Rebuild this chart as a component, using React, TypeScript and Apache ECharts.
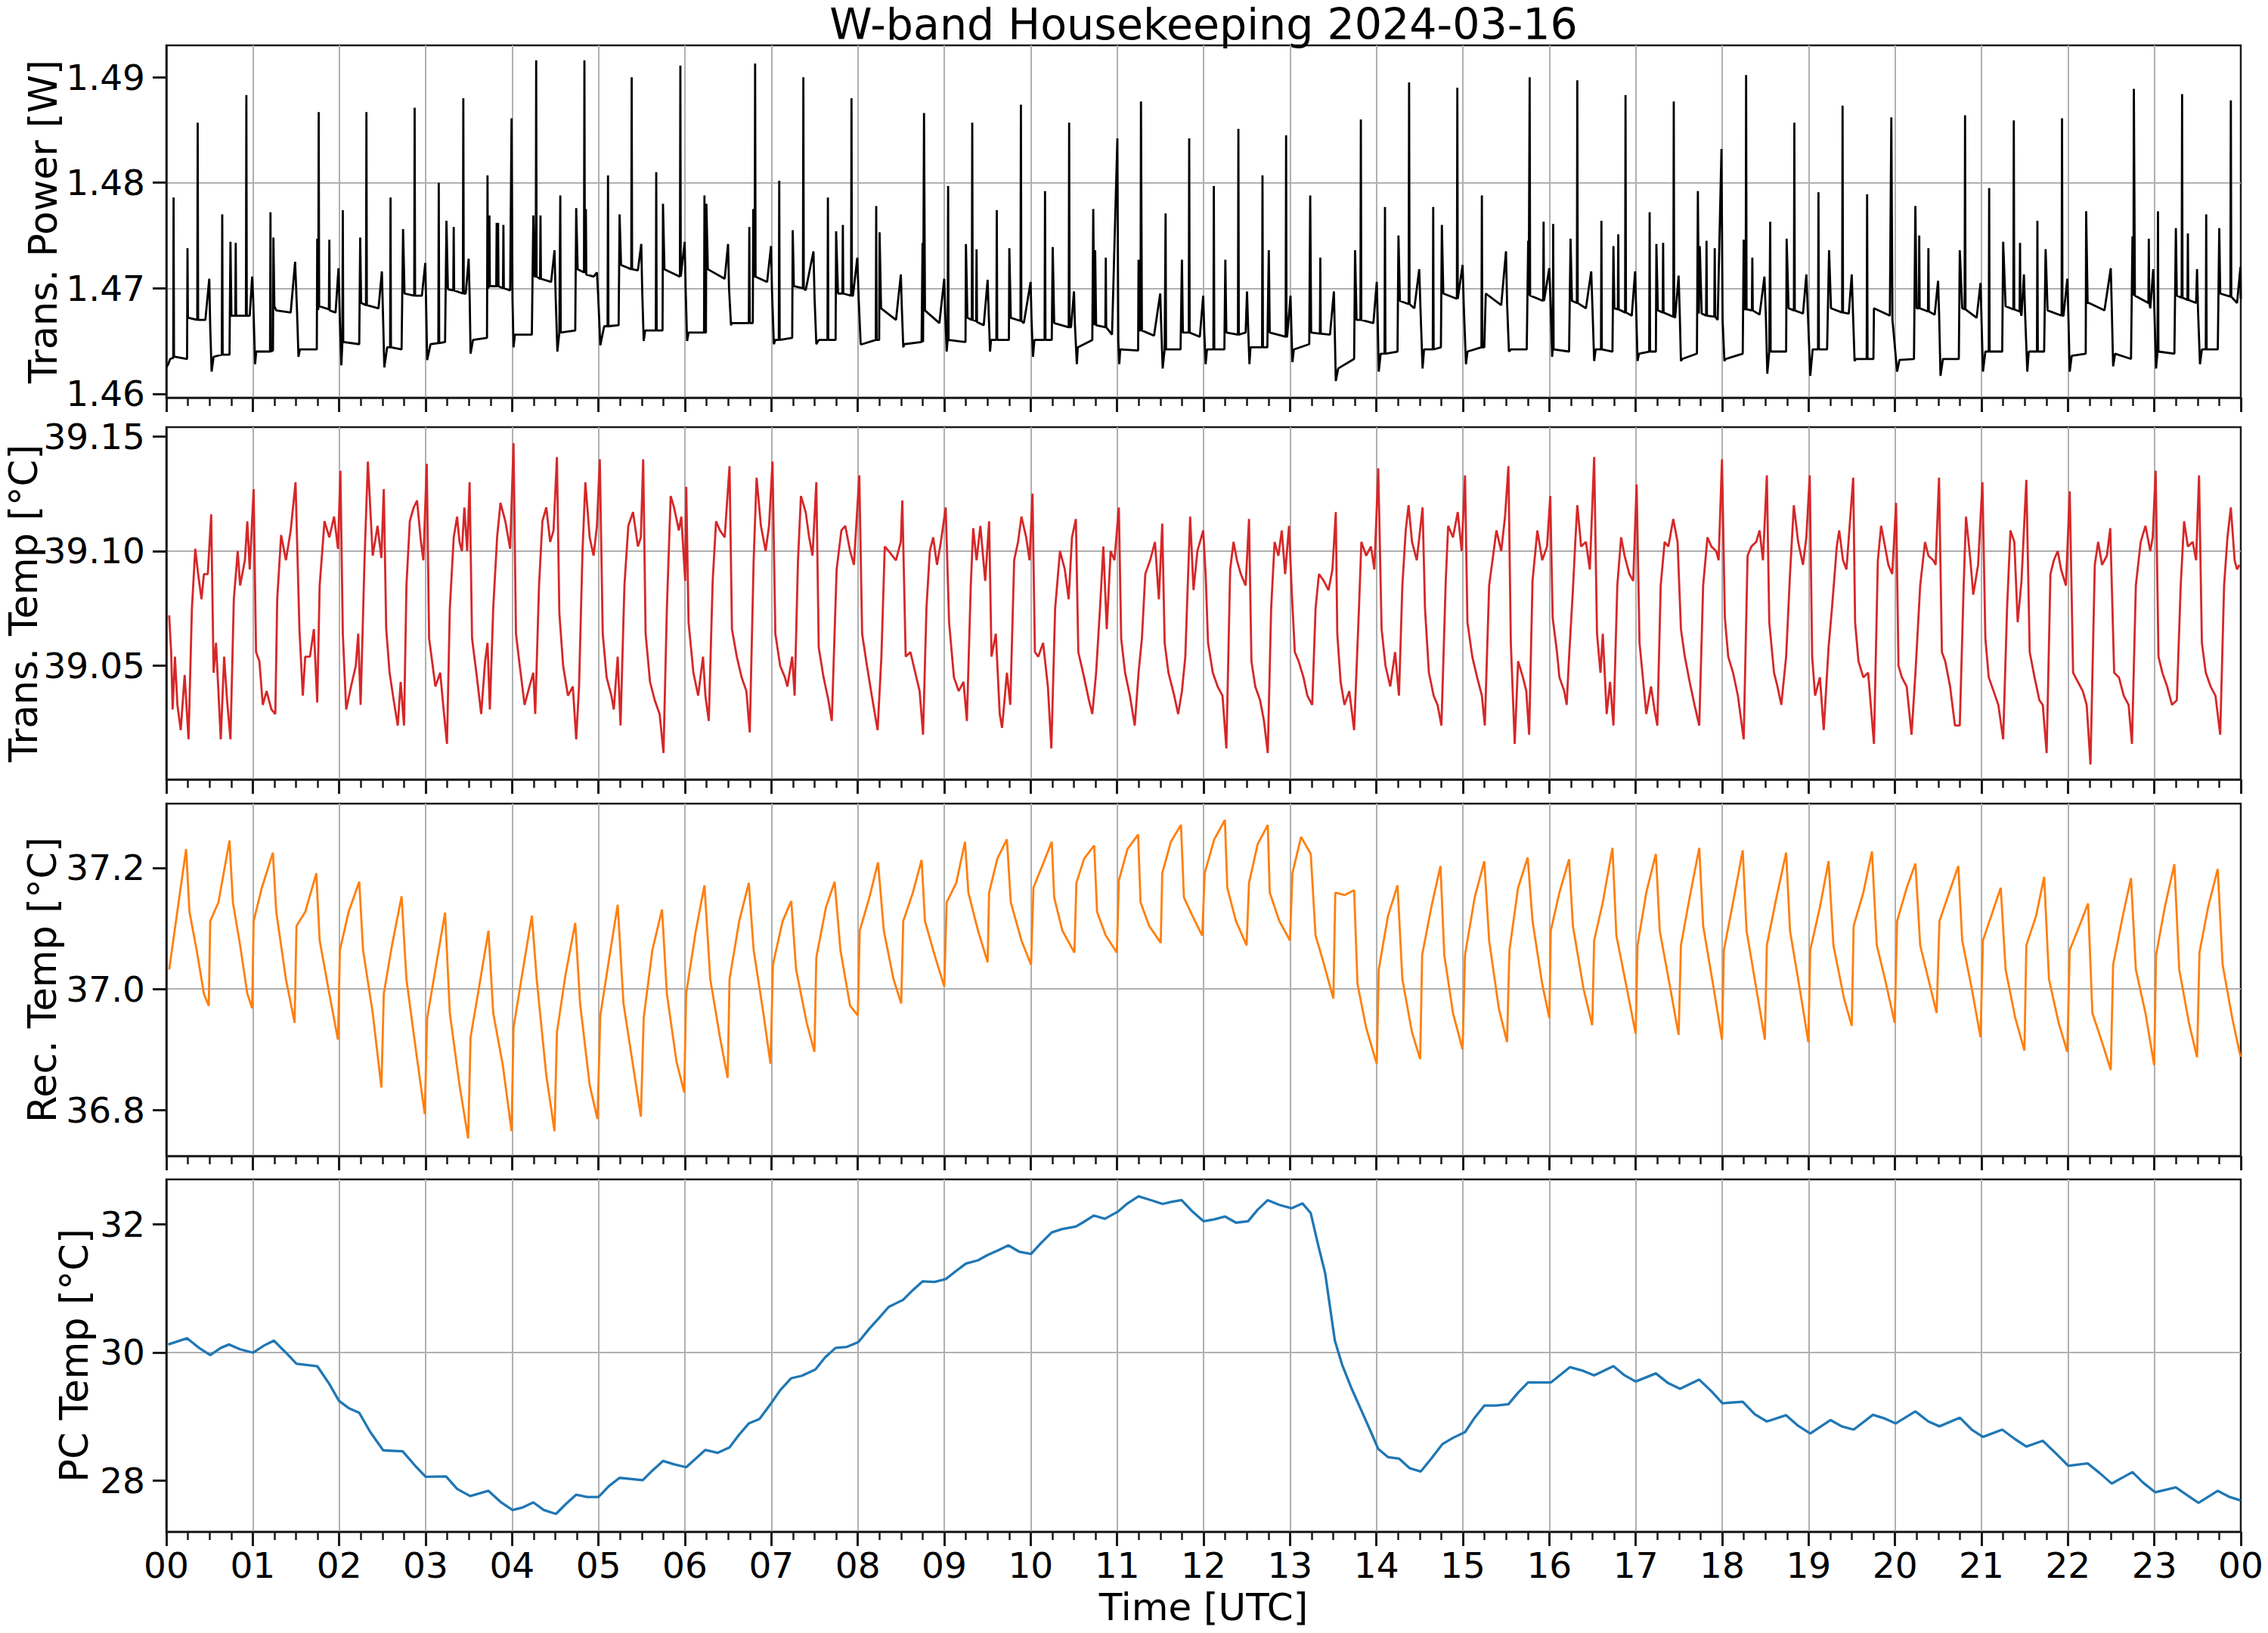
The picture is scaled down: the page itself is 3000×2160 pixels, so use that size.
import React, { useEffect, useRef } from "react";
import * as echarts from "echarts";

const TITLE = "W-band Housekeeping 2024-03-16";
const X_LABEL = "Time [UTC]";
const Y_LABELS = ["Trans. Power [W]", "Trans. Temp [°C]", "Rec. Temp [°C]", "PC Temp [°C]"];
const HOURS = [0, 24];
const Y_TICKS = [
  [1.46, 1.47, 1.48, 1.49],
  [39.05, 39.1, 39.15],
  [36.8, 37.0, 37.2],
  [28, 30, 32],
];
const Y_DECIMALS = [2, 2, 1, 0];
const Y_RANGES = [
  [1.45963, 1.49302],
  [39.0005, 39.154],
  [36.724, 37.306],
  [27.205, 32.698],
];
const COLORS = ["#000000", "#d62728", "#ff7f0e", "#1f77b4"];

const powerPts = [
[0.0,1.4625],[0.022,1.4628],[0.045,1.4633],[0.080,1.4634],[0.084,1.4786],[0.089,1.4636],[0.100,1.4635],[0.240,1.4633],[0.245,1.4738],[0.250,1.4672],[0.257,1.4672],[0.358,1.4670],[0.363,1.4857],[0.368,1.4670],[0.452,1.4670],[0.497,1.4709],[0.508,1.4663],[0.524,1.4621],[0.547,1.4635],
[0.642,1.4637],[0.647,1.4770],[0.652,1.4637],[0.731,1.4637],[0.742,1.4744],[0.753,1.4674],[0.798,1.4674],[0.803,1.4743],[0.808,1.4674],[0.921,1.4674],[0.926,1.4883],[0.931,1.4674],[0.965,1.4674],[0.993,1.4711],[1.005,1.4690],[1.027,1.4628],
[1.040,1.4640],[1.200,1.4640],[1.205,1.4772],[1.210,1.4640],[1.234,1.4641],[1.239,1.4748],[1.250,1.4683],[1.272,1.4679],[1.439,1.4677],[1.490,1.4725],[1.512,1.4679],[1.529,1.4635],
[1.545,1.4642],[1.741,1.4642],[1.746,1.4747],[1.751,1.4680],[1.758,1.4680],[1.763,1.4867],[1.768,1.4683],[1.881,1.4680],[1.886,1.4746],[1.891,1.4679],[1.958,1.4677],[1.992,1.4719],[2.008,1.4670],[2.025,1.4627],
[2.037,1.4649],[2.042,1.4774],[2.047,1.4649],[2.232,1.4647],[2.243,1.4748],[2.254,1.4686],[2.310,1.4684],[2.315,1.4867],[2.320,1.4684],[2.455,1.4681],[2.494,1.4716],[2.505,1.4681],[2.522,1.4625],
[2.555,1.4644],[2.589,1.4644],[2.594,1.4786],[2.599,1.4644],[2.722,1.4642],[2.739,1.4756],[2.756,1.4695],[2.868,1.4693],[2.873,1.4871],[2.878,1.4693],[2.957,1.4693],[2.996,1.4724],[3.007,1.4680],[3.018,1.4632],
[3.057,1.4647],[3.147,1.4648],[3.152,1.4800],[3.157,1.4648],[3.225,1.4649],[3.241,1.4764],[3.258,1.4699],[3.320,1.4698],[3.325,1.4758],[3.330,1.4698],[3.431,1.4695],[3.436,1.4880],[3.441,1.4695],[3.464,1.4695],[3.498,1.4728],[3.510,1.4690],[3.520,1.4638],
[3.548,1.4651],[3.710,1.4653],[3.716,1.4807],[3.721,1.4700],[3.733,1.4702],[3.738,1.4769],[3.743,1.4702],[3.817,1.4702],[3.822,1.4762],[3.827,1.4702],[3.835,1.4702],[3.838,1.4762],[3.843,1.4702],[3.895,1.4700],[3.900,1.4760],[3.905,1.4700],[3.978,1.4698],[3.994,1.4861],[4.005,1.4690],[4.017,1.4644],
[4.033,1.4656],[4.229,1.4656],[4.246,1.4769],[4.262,1.4711],[4.274,1.4711],[4.279,1.4916],[4.284,1.4711],[4.324,1.4709],[4.329,1.4769],[4.334,1.4709],[4.452,1.4706],[4.491,1.4736],[4.505,1.4690],[4.524,1.4640],
[4.547,1.4658],[4.558,1.4788],[4.563,1.4658],[4.731,1.4660],[4.742,1.4776],[4.759,1.4718],[4.832,1.4715],[4.837,1.4916],[4.842,1.4715],[4.849,1.4715],[4.854,1.4775],[4.859,1.4713],[4.943,1.4711],[4.982,1.4715],[4.995,1.4695],[5.021,1.4646],
[5.066,1.4664],[5.105,1.4664],[5.110,1.4807],[5.115,1.4664],[5.233,1.4665],[5.244,1.4770],[5.261,1.4722],[5.379,1.4718],[5.384,1.4900],[5.389,1.4718],[5.456,1.4717],[5.495,1.4742],[5.505,1.4700],[5.523,1.4650],
[5.540,1.4660],[5.663,1.4660],[5.668,1.4810],[5.673,1.4660],[5.741,1.4660],[5.746,1.4780],[5.763,1.4718],[5.942,1.4711],[5.947,1.4911],[5.952,1.4711],[5.958,1.4711],[5.997,1.4744],[6.008,1.4700],[6.025,1.4650],
[6.042,1.4658],[6.221,1.4658],[6.226,1.4788],[6.231,1.4658],[6.243,1.4658],[6.248,1.4780],[6.265,1.4718],[6.460,1.4709],[6.499,1.4742],[6.510,1.4700],[6.533,1.4665],
[6.544,1.4667],[6.739,1.4667],[6.745,1.4758],[6.750,1.4667],[6.785,1.4667],[6.790,1.4775],[6.800,1.4711],[6.807,1.4711],[6.812,1.4913],[6.817,1.4711],[6.951,1.4706],[6.996,1.4740],[7.008,1.4695],[7.029,1.4647],
[7.046,1.4651],[7.086,1.4651],[7.091,1.4802],[7.096,1.4651],[7.241,1.4653],[7.247,1.4755],[7.260,1.4702],[7.365,1.4700],[7.370,1.4900],[7.375,1.4700],[7.397,1.4698],[7.487,1.4735],[7.500,1.4690],[7.520,1.4647],
[7.548,1.4651],[7.649,1.4651],[7.654,1.4786],[7.659,1.4651],[7.743,1.4651],[7.749,1.4754],[7.771,1.4695],[7.822,1.4695],[7.827,1.4760],[7.832,1.4695],[7.922,1.4693],[7.927,1.4880],[7.932,1.4693],[7.944,1.4693],[7.994,1.4729],[8.010,1.4690],[8.033,1.4647],
[8.050,1.4647],[8.208,1.4651],[8.213,1.4778],[8.218,1.4651],[8.247,1.4651],[8.252,1.4753],[8.269,1.4681],[8.442,1.4670],[8.498,1.4713],[8.510,1.4680],[8.526,1.4644],
[8.537,1.4647],[8.738,1.4649],[8.749,1.4743],[8.755,1.4649],[8.761,1.4649],[8.766,1.4866],[8.777,1.4679],[8.944,1.4667],[9.000,1.4709],[9.012,1.4675],[9.028,1.4640],
[9.039,1.4651],[9.045,1.4797],[9.050,1.4651],[9.246,1.4649],[9.251,1.4742],[9.268,1.4672],[9.319,1.4670],[9.324,1.4857],[9.329,1.4670],[9.369,1.4669],[9.374,1.4737],[9.379,1.4668],[9.457,1.4665],[9.502,1.4708],[9.515,1.4675],[9.530,1.4640],
[9.541,1.4651],[9.603,1.4651],[9.608,1.4774],[9.613,1.4651],[9.748,1.4651],[9.753,1.4738],[9.770,1.4672],[9.882,1.4669],[9.887,1.4874],[9.892,1.4669],[9.921,1.4667],[9.999,1.4706],[10.010,1.4670],[10.027,1.4635],
[10.043,1.4651],[10.161,1.4651],[10.166,1.4792],[10.171,1.4651],[10.244,1.4651],[10.255,1.4739],[10.272,1.4667],[10.440,1.4663],[10.445,1.4857],[10.450,1.4663],[10.467,1.4663],[10.501,1.4697],[10.512,1.4665],[10.534,1.4628],
[10.545,1.4644],[10.713,1.4651],[10.724,1.4775],[10.735,1.4665],[10.741,1.4665],[10.746,1.4736],[10.757,1.4665],[10.864,1.4663],[10.869,1.4729],[10.874,1.4663],[10.941,1.4656],[11.003,1.4842],[11.014,1.4650],[11.025,1.4628],
[11.036,1.4642],[11.243,1.4641],[11.248,1.4727],[11.255,1.4660],[11.271,1.4660],[11.276,1.4877],[11.287,1.4660],[11.427,1.4655],[11.499,1.4695],[11.510,1.4665],[11.527,1.4624],
[11.550,1.4642],[11.556,1.4642],[11.561,1.4771],[11.566,1.4642],[11.734,1.4642],[11.750,1.4727],[11.761,1.4658],[11.829,1.4658],[11.834,1.4842],[11.839,1.4658],[11.957,1.4654],[11.996,1.4693],[12.008,1.4660],[12.024,1.4628],
[12.040,1.4642],[12.114,1.4642],[12.119,1.4797],[12.124,1.4642],[12.241,1.4642],[12.252,1.4727],[12.264,1.4658],[12.398,1.4656],[12.403,1.4851],[12.408,1.4656],[12.487,1.4658],[12.503,1.4697],[12.515,1.4665],[12.531,1.4628],
[12.543,1.4644],[12.677,1.4644],[12.682,1.4807],[12.687,1.4644],[12.738,1.4644],[12.755,1.4736],[12.766,1.4658],[12.950,1.4654],[12.955,1.4845],[12.960,1.4654],[12.967,1.4654],[13.006,1.4693],[13.017,1.4660],[13.028,1.4630],
[13.045,1.4642],[13.223,1.4647],[13.234,1.4788],[13.245,1.4658],[13.346,1.4657],[13.351,1.4729],[13.356,1.4657],[13.463,1.4656],[13.508,1.4697],[13.518,1.4660],[13.530,1.4612],
[13.558,1.4624],[13.742,1.4633],[13.753,1.4736],[13.770,1.4670],[13.815,1.4670],[13.820,1.4860],[13.825,1.4670],[13.965,1.4667],[14.004,1.4706],[14.015,1.4670],[14.027,1.4621],
[14.049,1.4638],[14.094,1.4638],[14.099,1.4777],[14.104,1.4638],[14.244,1.4640],[14.255,1.4750],[14.272,1.4688],[14.373,1.4685],[14.378,1.4895],[14.383,1.4685],[14.439,1.4681],[14.495,1.4718],[14.510,1.4680],[14.534,1.4624],
[14.551,1.4642],[14.652,1.4642],[14.657,1.4777],[14.662,1.4642],[14.746,1.4644],[14.757,1.4760],[14.774,1.4695],[14.931,1.4690],[14.936,1.4890],[14.941,1.4690],[14.997,1.4722],[15.010,1.4685],[15.036,1.4628],
[15.053,1.4640],[15.215,1.4644],[15.220,1.4788],[15.225,1.4644],[15.248,1.4644],[15.265,1.4695],[15.444,1.4684],[15.499,1.4735],[15.512,1.4685],[15.533,1.4640],
[15.555,1.4642],[15.739,1.4642],[15.756,1.4745],[15.762,1.4693],[15.768,1.4693],[15.773,1.4900],[15.778,1.4693],[15.929,1.4688],[15.934,1.4763],[15.939,1.4688],[16.000,1.4719],[16.017,1.4680],[16.033,1.4635],
[16.040,1.4642],[16.045,1.4761],[16.050,1.4642],[16.229,1.4640],[16.246,1.4747],[16.262,1.4688],[16.319,1.4686],[16.324,1.4897],[16.329,1.4686],[16.424,1.4681],[16.485,1.4716],[16.500,1.4680],[16.519,1.4631],
[16.536,1.4642],[16.598,1.4642],[16.603,1.4764],[16.608,1.4642],[16.731,1.4640],[16.742,1.4740],[16.753,1.4681],[16.793,1.4680],[16.798,1.4751],[16.803,1.4680],[16.877,1.4677],[16.882,1.4883],[16.887,1.4677],[16.954,1.4674],[16.993,1.4716],[17.005,1.4680],[17.021,1.4631],
[17.038,1.4638],[17.156,1.4640],[17.161,1.4772],[17.166,1.4640],[17.233,1.4640],[17.239,1.4742],[17.256,1.4679],[17.312,1.4677],[17.317,1.4743],[17.322,1.4677],[17.435,1.4673],[17.440,1.4877],[17.445,1.4673],[17.456,1.4672],[17.496,1.4712],[17.508,1.4680],[17.523,1.4631],
[17.540,1.4633],[17.708,1.4638],[17.719,1.4792],[17.730,1.4676],[17.741,1.4740],[17.763,1.4676],[17.814,1.4674],[17.819,1.4745],[17.824,1.4674],[17.909,1.4673],[17.914,1.4738],[17.919,1.4673],[17.948,1.4670],[17.992,1.4832],[18.005,1.4670],[18.026,1.4631],
[18.042,1.4633],[18.238,1.4638],[18.249,1.4746],[18.260,1.4680],[18.272,1.4680],[18.277,1.4902],[18.282,1.4680],[18.344,1.4679],[18.349,1.4729],[18.354,1.4679],[18.433,1.4675],[18.489,1.4711],[18.505,1.4675],[18.522,1.4619],
[18.545,1.4640],[18.551,1.4640],[18.556,1.4763],[18.561,1.4640],[18.740,1.4640],[18.746,1.4747],[18.768,1.4681],[18.830,1.4679],[18.835,1.4857],[18.840,1.4679],[18.935,1.4676],[18.974,1.4713],[18.990,1.4680],[19.019,1.4617],
[19.047,1.4642],[19.109,1.4642],[19.114,1.4791],[19.119,1.4642],[19.214,1.4642],[19.237,1.4736],[19.259,1.4681],[19.388,1.4677],[19.393,1.4873],[19.398,1.4677],[19.465,1.4676],[19.499,1.4713],[19.512,1.4680],[19.532,1.4631],
[19.549,1.4633],[19.672,1.4633],[19.677,1.4789],[19.682,1.4633],[19.750,1.4633],[19.756,1.4681],[19.940,1.4674],[19.957,1.4862],[19.970,1.4670],[20.024,1.4621],
[20.051,1.4632],[20.219,1.4633],[20.235,1.4778],[20.250,1.4681],[20.275,1.4681],[20.280,1.4750],[20.285,1.4681],[20.381,1.4678],[20.386,1.4738],[20.391,1.4678],[20.459,1.4675],[20.498,1.4707],[20.510,1.4675],[20.526,1.4617],
[20.554,1.4633],[20.738,1.4633],[20.749,1.4736],[20.777,1.4681],[20.805,1.4680],[20.810,1.4864],[20.815,1.4680],[20.944,1.4672],[20.989,1.4705],[21.000,1.4672],[21.017,1.4621],
[21.045,1.4640],[21.084,1.4640],[21.089,1.4795],[21.094,1.4640],[21.240,1.4640],[21.251,1.4744],[21.279,1.4683],[21.369,1.4680],[21.374,1.4859],[21.379,1.4680],[21.441,1.4678],[21.446,1.4743],[21.451,1.4678],[21.463,1.4674],[21.491,1.4713],[21.505,1.4675],[21.530,1.4621],
[21.547,1.4640],[21.642,1.4640],[21.647,1.4764],[21.652,1.4640],[21.725,1.4640],[21.742,1.4737],[21.765,1.4679],[21.927,1.4674],[21.932,1.4861],[21.937,1.4674],[21.949,1.4674],[21.993,1.4709],[22.005,1.4675],[22.021,1.4621],
[22.044,1.4636],[22.206,1.4638],[22.211,1.4773],[22.228,1.4686],[22.244,1.4686],[22.423,1.4679],[22.496,1.4719],[22.508,1.4680],[22.523,1.4626],
[22.546,1.4638],[22.730,1.4633],[22.747,1.4749],[22.758,1.4693],[22.763,1.4889],[22.775,1.4693],[22.931,1.4686],[22.936,1.4747],[22.941,1.4686],[22.953,1.4681],[22.987,1.4718],[23.000,1.4680],[23.020,1.4624],
[23.037,1.4640],[23.042,1.4773],[23.047,1.4640],[23.232,1.4638],[23.249,1.4757],[23.260,1.4693],[23.316,1.4691],[23.321,1.4884],[23.326,1.4691],[23.383,1.4689],[23.388,1.4752],[23.393,1.4689],[23.483,1.4686],[23.494,1.4718],[23.505,1.4680],[23.528,1.4628],
[23.550,1.4642],[23.595,1.4642],[23.600,1.4770],[23.605,1.4642],[23.734,1.4642],[23.751,1.4757],[23.762,1.4695],[23.880,1.4692],[23.885,1.4878],[23.890,1.4692],[23.957,1.4686],[23.996,1.4720],[24.0,1.4690],
];

const transTempPts = [
[0.033,39.072],[0.056,39.056],[0.073,39.031],[0.100,39.054],[0.128,39.033],[0.167,39.022],[0.212,39.046],[0.257,39.018],[0.296,39.075],[0.335,39.101],[0.368,39.090],[0.407,39.079],[0.435,39.090],[0.480,39.090],[0.519,39.116],[0.547,39.047],[0.575,39.060],[0.630,39.018],[0.669,39.054],[0.703,39.035],[0.742,39.018],[0.781,39.079],[0.826,39.100],[0.854,39.085],[0.909,39.096],[0.937,39.113],[0.965,39.092],[1.010,39.127],[1.038,39.056],[1.077,39.052],[1.116,39.033],[1.160,39.039],[1.216,39.031],[1.261,39.029],[1.283,39.079],[1.328,39.107],[1.384,39.096],[1.439,39.109],[1.495,39.130],[1.540,39.066],[1.579,39.037],[1.607,39.054],[1.662,39.054],[1.707,39.066],[1.746,39.034],[1.774,39.085],[1.830,39.113],[1.886,39.106],[1.941,39.115],[1.986,39.101],[2.014,39.135],[2.042,39.064],[2.081,39.031],[2.137,39.041],[2.192,39.050],[2.220,39.064],[2.248,39.033],[2.293,39.096],[2.332,39.139],[2.388,39.098],[2.444,39.111],[2.488,39.097],[2.516,39.127],[2.544,39.066],[2.583,39.047],[2.639,39.033],[2.678,39.024],[2.711,39.043],[2.750,39.024],[2.778,39.085],[2.817,39.113],[2.862,39.119],[2.901,39.122],[2.946,39.104],[2.974,39.096],[3.013,39.138],[3.040,39.062],[3.113,39.041],[3.169,39.047],[3.208,39.031],[3.247,39.016],[3.280,39.075],[3.325,39.106],[3.364,39.115],[3.392,39.104],[3.420,39.100],[3.448,39.119],[3.481,39.100],[3.509,39.130],[3.537,39.062],[3.587,39.047],[3.643,39.029],[3.688,39.052],[3.716,39.060],[3.743,39.031],[3.782,39.075],[3.827,39.106],[3.866,39.121],[3.922,39.113],[3.978,39.101],[4.017,39.147],[4.045,39.064],[4.089,39.050],[4.145,39.033],[4.201,39.041],[4.246,39.047],[4.268,39.029],[4.312,39.085],[4.351,39.113],[4.396,39.119],[4.441,39.104],[4.480,39.109],[4.519,39.141],[4.547,39.073],[4.591,39.050],[4.647,39.037],[4.703,39.041],[4.742,39.018],[4.775,39.041],[4.815,39.100],[4.848,39.130],[4.898,39.106],[4.943,39.098],[4.982,39.111],[5.015,39.140],[5.049,39.064],[5.094,39.045],[5.149,39.037],[5.177,39.031],[5.222,39.054],[5.255,39.024],[5.300,39.085],[5.345,39.111],[5.400,39.117],[5.456,39.102],[5.490,39.106],[5.517,39.140],[5.545,39.064],[5.596,39.043],[5.651,39.035],[5.707,39.029],[5.752,39.012],[5.791,39.075],[5.835,39.124],[5.874,39.119],[5.930,39.109],[5.958,39.115],[6.003,39.087],[6.015,39.128],[6.042,39.069],[6.098,39.047],[6.153,39.037],[6.209,39.054],[6.237,39.037],[6.276,39.026],[6.321,39.087],[6.360,39.113],[6.405,39.109],[6.460,39.106],[6.516,39.137],[6.544,39.066],[6.600,39.054],[6.656,39.045],[6.711,39.039],[6.750,39.021],[6.795,39.096],[6.829,39.132],[6.879,39.111],[6.934,39.100],[6.973,39.111],[7.013,39.139],[7.046,39.064],[7.102,39.050],[7.157,39.045],[7.185,39.041],[7.241,39.054],[7.269,39.037],[7.308,39.096],[7.342,39.124],[7.397,39.117],[7.437,39.106],[7.476,39.098],[7.520,39.130],[7.548,39.058],[7.604,39.045],[7.660,39.035],[7.699,39.026],[7.755,39.092],[7.810,39.109],[7.855,39.111],[7.911,39.100],[7.955,39.094],[8.017,39.133],[8.050,39.064],[8.106,39.050],[8.162,39.037],[8.229,39.022],[8.273,39.054],[8.312,39.102],[8.357,39.100],[8.441,39.096],[8.497,39.104],
[8.515,39.122],[8.554,39.054],[8.609,39.056],[8.665,39.047],[8.715,39.039],[8.755,39.020],[8.794,39.075],[8.833,39.100],[8.872,39.106],[8.916,39.094],[8.961,39.104],[9.017,39.119],[9.056,39.069],[9.112,39.045],[9.167,39.039],[9.223,39.043],[9.262,39.026],[9.307,39.085],[9.335,39.110],[9.374,39.096],[9.418,39.111],[9.474,39.087],[9.519,39.113],[9.547,39.054],[9.597,39.064],[9.642,39.029],[9.669,39.023],[9.725,39.047],[9.764,39.033],[9.809,39.096],[9.854,39.104],[9.893,39.115],[9.948,39.106],[9.987,39.096],[10.021,39.125],[10.049,39.056],[10.088,39.054],[10.144,39.060],[10.199,39.041],[10.239,39.014],[10.283,39.075],[10.339,39.100],[10.395,39.092],[10.439,39.079],[10.478,39.106],[10.523,39.114],[10.551,39.056],[10.618,39.045],[10.674,39.035],[10.713,39.029],[10.757,39.047],[10.802,39.075],[10.841,39.102],[10.880,39.066],[10.925,39.100],[10.969,39.096],[11.020,39.119],[11.047,39.062],[11.092,39.047],[11.148,39.037],[11.204,39.024],[11.248,39.047],[11.287,39.062],[11.326,39.090],[11.382,39.096],[11.438,39.104],[11.483,39.079],[11.522,39.112],[11.550,39.060],[11.594,39.047],[11.661,39.037],[11.706,39.029],[11.750,39.039],[11.789,39.054],[11.817,39.085],[11.845,39.115],[11.884,39.083],[11.929,39.100],[11.996,39.109],[12.024,39.090],[12.052,39.060],[12.107,39.047],[12.163,39.041],[12.219,39.037],[12.264,39.014],[12.308,39.092],[12.347,39.104],[12.386,39.096],[12.431,39.090],[12.487,39.085],[12.526,39.114],[12.554,39.052],[12.598,39.041],[12.654,39.035],[12.699,39.026],[12.743,39.012],[12.782,39.075],[12.822,39.104],[12.866,39.098],[12.905,39.109],[12.944,39.090],[12.989,39.111],[13.022,39.081],[13.056,39.056],[13.100,39.052],[13.156,39.045],[13.201,39.037],[13.257,39.033],[13.296,39.075],[13.335,39.090],[13.391,39.087],[13.446,39.083],[13.491,39.092],[13.530,39.117],[13.547,39.064],[13.586,39.043],[13.630,39.033],[13.686,39.039],[13.742,39.022],[13.798,39.075],[13.826,39.104],[13.881,39.098],[13.937,39.102],[13.976,39.092],[14.021,39.136],[14.060,39.066],[14.105,39.050],[14.160,39.041],[14.216,39.056],[14.261,39.037],[14.300,39.085],[14.339,39.109],[14.372,39.120],[14.412,39.104],[14.467,39.096],[14.534,39.119],[14.562,39.075],[14.607,39.047],[14.662,39.037],[14.707,39.033],[14.752,39.024],[14.802,39.087],[14.830,39.111],[14.886,39.106],[14.941,39.117],[14.986,39.100],[15.025,39.133],[15.053,39.069],[15.109,39.054],[15.165,39.045],[15.220,39.037],[15.254,39.024],[15.304,39.085],[15.343,39.096],[15.388,39.109],[15.444,39.100],[15.488,39.115],[15.527,39.137],[15.555,39.060],[15.600,39.016],[15.639,39.052],[15.695,39.045],[15.734,39.039],[15.767,39.020],[15.806,39.087],[15.862,39.109],[15.918,39.096],[15.974,39.102],
[16.011,39.124],[16.039,39.071],[16.089,39.056],[16.117,39.045],[16.173,39.039],[16.201,39.033],[16.229,39.054],[16.273,39.083],[16.301,39.104],[16.324,39.120],[16.368,39.102],[16.424,39.104],[16.469,39.092],[16.519,39.141],[16.552,39.064],[16.592,39.047],[16.619,39.064],[16.664,39.029],[16.703,39.043],[16.742,39.024],[16.787,39.085],[16.831,39.106],[16.871,39.098],[16.926,39.090],[16.971,39.087],[17.010,39.129],[17.044,39.060],[17.077,39.047],[17.122,39.029],[17.177,39.041],[17.217,39.031],[17.250,39.024],[17.289,39.085],[17.334,39.104],[17.378,39.102],[17.434,39.114],[17.484,39.104],[17.523,39.066],[17.568,39.054],[17.624,39.043],[17.680,39.033],[17.735,39.024],[17.780,39.085],[17.830,39.106],[17.875,39.102],[17.931,39.100],[17.959,39.096],[17.998,39.140],[18.031,39.071],[18.070,39.054],[18.126,39.047],[18.182,39.037],[18.249,39.018],[18.294,39.098],[18.338,39.102],[18.394,39.104],[18.433,39.109],[18.472,39.096],[18.517,39.133],[18.545,39.069],[18.600,39.047],[18.640,39.041],[18.684,39.033],[18.740,39.054],[18.785,39.090],[18.829,39.120],[18.879,39.104],[18.935,39.094],[18.974,39.106],[19.013,39.133],[19.041,39.054],[19.075,39.037],[19.131,39.045],[19.175,39.022],[19.231,39.058],[19.270,39.075],[19.326,39.102],[19.354,39.109],[19.398,39.096],[19.438,39.092],[19.516,39.132],[19.538,39.069],[19.577,39.052],[19.633,39.045],[19.689,39.047],[19.756,39.016],[19.801,39.096],[19.839,39.111],[19.884,39.102],[19.923,39.094],[19.968,39.090],[20.012,39.121],[20.040,39.050],[20.079,39.045],[20.135,39.041],[20.191,39.020],[20.236,39.047],[20.291,39.085],[20.347,39.104],[20.386,39.098],[20.442,39.096],[20.470,39.094],[20.509,39.132],[20.542,39.056],[20.581,39.052],[20.637,39.041],[20.693,39.024],[20.749,39.024],[20.794,39.085],[20.821,39.115],[20.872,39.096],[20.905,39.081],[20.961,39.094],[21.011,39.130],[21.045,39.062],[21.084,39.045],[21.140,39.039],[21.195,39.033],[21.251,39.018],[21.296,39.075],[21.335,39.109],[21.380,39.104],[21.419,39.069],[21.463,39.087],[21.519,39.131],[21.558,39.056],[21.614,39.045],[21.670,39.035],[21.709,39.033],[21.754,39.012],[21.798,39.090],[21.837,39.096],[21.882,39.100],[21.921,39.092],[21.977,39.085],[22.021,39.126],[22.060,39.047],[22.116,39.043],[22.172,39.039],[22.217,39.033],[22.261,39.007],[22.311,39.094],[22.350,39.104],[22.395,39.094],[22.451,39.098],[22.490,39.110],[22.535,39.047],[22.590,39.045],[22.646,39.037],[22.702,39.033],[22.741,39.016],[22.786,39.085],[22.842,39.104],[22.897,39.111],[22.953,39.100],[22.981,39.106],[23.015,39.135],[23.048,39.054],[23.093,39.047],[23.148,39.041],[23.204,39.033],[23.260,39.035],[23.305,39.085],[23.344,39.113],[23.388,39.102],[23.444,39.104],[23.483,39.096],[23.517,39.133],[23.550,39.060],[23.595,39.047],[23.651,39.041],[23.707,39.037],[23.762,39.020],[23.807,39.085],[23.846,39.106],[23.885,39.119],[23.929,39.096],[23.957,39.092],[23.984,39.094],
];

const recTempPts = [
[0.033,37.032],[0.229,37.231],[0.268,37.127],[0.351,37.064],[0.435,36.992],[0.491,36.972],[0.508,37.112],[0.603,37.143],[0.731,37.245],[0.770,37.143],[0.854,37.072],[0.937,36.992],[0.993,36.968],[1.010,37.112],[1.105,37.167],[1.233,37.225],[1.272,37.127],[1.384,37.016],[1.484,36.944],[1.506,37.104],[1.607,37.127],[1.735,37.191],[1.774,37.080],[1.886,36.992],[1.986,36.916],[2.008,37.064],[2.109,37.127],[2.232,37.177],[2.276,37.064],[2.388,36.960],[2.488,36.837],[2.516,36.992],[2.611,37.072],[2.722,37.153],[2.778,37.016],[2.890,36.896],[2.990,36.793],[3.018,36.952],[3.113,37.032],[3.225,37.126],[3.280,36.960],[3.392,36.841],[3.492,36.753],[3.520,36.920],[3.615,37.0],[3.727,37.096],[3.782,36.960],[3.894,36.873],[3.994,36.765],[4.017,36.936],[4.117,37.024],[4.229,37.121],[4.285,37.016],[4.396,36.857],[4.491,36.765],[4.519,36.928],[4.619,37.024],[4.731,37.109],[4.787,36.976],[4.898,36.841],[4.988,36.785],[5.021,36.956],[5.121,37.048],[5.222,37.139],[5.289,36.976],[5.400,36.873],[5.490,36.789],[5.523,36.952],[5.623,37.064],[5.735,37.131],[5.791,36.992],[5.902,36.880],[5.992,36.829],[6.014,36.992],[6.126,37.096],[6.226,37.171],[6.293,37.016],[6.405,36.920],[6.494,36.853],[6.516,37.016],[6.628,37.112],[6.739,37.175],[6.795,37.064],[6.907,36.960],[6.990,36.876],[7.018,37.040],[7.130,37.112],[7.230,37.145],[7.286,37.032],[7.409,36.944],[7.498,36.896],[7.520,37.052],[7.632,37.135],[7.732,37.177],[7.799,37.064],[7.911,36.972],[8.0,36.956],[8.022,37.096],[8.134,37.151],[8.234,37.209],[8.301,37.096],[8.413,37.016],[8.502,36.976],
[8.526,37.112],[8.637,37.159],[8.738,37.213],[8.777,37.112],[8.888,37.056],[9.0,37.004],[9.028,37.143],[9.139,37.175],[9.240,37.243],[9.279,37.159],[9.391,37.096],[9.502,37.044],[9.519,37.159],[9.614,37.215],[9.725,37.247],[9.770,37.143],[9.893,37.080],[10.004,37.040],[10.032,37.167],[10.144,37.207],[10.244,37.243],[10.272,37.151],[10.367,37.096],[10.506,37.060],[10.529,37.175],[10.618,37.215],[10.735,37.237],[10.768,37.127],[10.869,37.088],[10.997,37.060],[11.020,37.179],[11.120,37.231],[11.243,37.255],[11.271,37.143],[11.371,37.104],[11.505,37.076],[11.522,37.191],[11.622,37.243],[11.739,37.271],[11.773,37.151],[11.873,37.120],[11.985,37.088],[12.013,37.191],[12.124,37.247],[12.247,37.279],[12.275,37.167],[12.375,37.112],[12.498,37.072],[12.526,37.175],[12.626,37.239],[12.743,37.271],[12.766,37.159],[12.877,37.112],[13.0,37.080],[13.028,37.191],[13.128,37.251],[13.240,37.223],[13.296,37.088],[13.379,37.048],[13.502,36.984],[13.524,37.159],[13.630,37.155],[13.742,37.163],[13.781,37.008],[13.881,36.936],[14.004,36.876],[14.027,37.032],[14.133,37.120],[14.244,37.171],[14.300,37.016],[14.412,36.928],[14.506,36.884],[14.529,37.056],[14.635,37.135],[14.741,37.203],[14.785,37.056],[14.886,36.960],[14.997,36.900],[15.025,37.056],[15.137,37.151],[15.248,37.211],[15.304,37.080],[15.416,36.968],[15.511,36.912],[15.539,37.064],[15.639,37.167],[15.750,37.217],[15.806,37.112],[15.918,37.008],[16.001,36.952],
[16.017,37.096],[16.117,37.159],[16.229,37.214],[16.273,37.104],[16.396,37.0],[16.497,36.940],[16.519,37.080],[16.619,37.143],[16.731,37.233],[16.776,37.088],[16.898,37.0],[16.999,36.926],[17.021,37.072],[17.122,37.159],[17.233,37.223],[17.278,37.096],[17.401,37.0],[17.496,36.924],[17.523,37.072],[17.624,37.151],[17.735,37.233],[17.780,37.104],[17.903,37.0],[17.998,36.916],[18.020,37.064],[18.126,37.143],[18.238,37.229],[18.282,37.096],[18.405,36.992],[18.494,36.916],[18.517,37.072],[18.628,37.151],[18.740,37.225],[18.785,37.096],[18.907,36.992],[18.997,36.912],[19.019,37.064],[19.131,37.135],[19.231,37.211],[19.287,37.072],[19.410,36.984],[19.499,36.939],[19.521,37.104],[19.633,37.159],[19.733,37.227],[19.789,37.072],[19.884,37.016],[19.996,36.944],[20.024,37.112],[20.135,37.167],[20.236,37.207],[20.291,37.072],[20.386,37.016],[20.481,36.960],[20.514,37.112],[20.626,37.159],[20.732,37.203],[20.777,37.080],[20.888,37.0],[20.989,36.920],[21.017,37.080],[21.128,37.127],[21.223,37.167],[21.279,37.032],[21.391,36.952],[21.497,36.898],[21.519,37.072],[21.631,37.120],[21.725,37.185],[21.781,37.016],[21.893,36.944],[21.993,36.896],[22.021,37.064],[22.133,37.104],[22.233,37.141],[22.283,36.960],[22.395,36.912],[22.496,36.866],[22.523,37.040],[22.634,37.120],[22.730,37.183],[22.786,37.032],[22.897,36.960],[22.998,36.874],[23.020,37.056],[23.121,37.135],[23.232,37.206],[23.288,37.032],[23.400,36.944],[23.494,36.887],[23.522,37.060],[23.622,37.135],[23.733,37.198],[23.790,37.040],[23.901,36.952],[23.997,36.888],
];

const pcTempPts = [
[0.022,30.124],[0.240,30.221],[0.379,30.071],[0.508,29.959],[0.630,30.071],[0.725,30.124],[0.854,30.049],[1.004,29.996],[1.133,30.109],[1.244,30.184],[1.384,29.996],[1.506,29.824],[1.746,29.786],[1.886,29.508],[1.997,29.246],[2.109,29.133],[2.232,29.058],[2.360,28.758],[2.510,28.473],[2.734,28.458],[2.879,28.233],[3.001,28.060],[3.236,28.068],[3.364,27.872],[3.515,27.760],[3.727,27.842],[3.866,27.670],[4.006,27.542],[4.117,27.580],[4.246,27.662],[4.368,27.542],[4.508,27.482],[4.619,27.632],[4.742,27.782],[4.870,27.745],[4.999,27.745],[5.121,27.917],[5.244,28.045],[5.512,28.008],[5.623,28.158],[5.746,28.308],[5.874,28.255],[6.014,28.210],[6.126,28.345],[6.237,28.480],[6.377,28.435],[6.516,28.518],[6.628,28.720],[6.739,28.893],[6.862,28.961],[6.990,29.193],[7.102,29.411],[7.230,29.598],[7.353,29.636],[7.509,29.734],[7.621,29.921],[7.743,30.071],[7.872,30.086],[8.006,30.161],[8.134,30.371],[8.245,30.537],[8.357,30.709],[8.469,30.784],[8.526,30.822],[8.637,30.972],[8.749,31.107],[8.888,31.099],[9.017,31.144],[9.139,31.272],[9.251,31.385],[9.391,31.437],[9.502,31.520],[9.630,31.595],[9.742,31.670],[9.865,31.572],[10.004,31.535],[10.116,31.700],[10.244,31.872],[10.367,31.925],[10.523,31.962],[10.618,32.038],[10.729,32.135],[10.858,32.083],[11.008,32.195],[11.120,32.323],[11.248,32.435],[11.371,32.383],[11.527,32.315],[11.622,32.345],[11.745,32.375],[11.862,32.210],[12.001,32.045],[12.124,32.075],[12.247,32.120],[12.375,32.023],[12.515,32.045],[12.626,32.225],[12.743,32.375],[12.877,32.300],[13.017,32.248],[13.145,32.323],[13.240,32.173],[13.324,31.685],[13.407,31.235],[13.463,30.709],[13.519,30.184],[13.603,29.809],[13.714,29.433],[13.826,29.096],[13.937,28.758],[14.021,28.495],[14.133,28.368],[14.261,28.345],[14.384,28.195],[14.512,28.143],[14.635,28.345],[14.763,28.570],[14.886,28.668],[15.025,28.758],[15.137,28.983],[15.248,29.171],[15.388,29.171],[15.527,29.193],[15.639,29.373],[15.754,29.531],[16.017,29.531],[16.240,29.771],[16.396,29.711],[16.519,29.643],[16.742,29.786],[16.871,29.643],[16.999,29.546],[17.233,29.673],[17.373,29.523],[17.512,29.433],[17.735,29.576],[17.875,29.396],[18.003,29.208],[18.238,29.231],[18.377,29.036],[18.517,28.923],[18.740,29.021],[18.879,28.856],[19.019,28.735],[19.253,28.946],[19.382,28.848],[19.521,28.796],[19.744,29.028],[19.884,28.968],[20.007,28.893],[20.235,29.081],[20.386,28.923],[20.514,28.848],[20.749,28.983],[20.888,28.796],[21.017,28.683],[21.240,28.796],[21.391,28.646],[21.519,28.533],[21.709,28.623],[21.865,28.420],[22.004,28.233],[22.228,28.270],[22.367,28.120],[22.507,27.955],[22.747,28.135],[22.870,27.970],[23.009,27.820],[23.249,27.895],[23.372,27.782],[23.511,27.655],[23.734,27.842],[23.873,27.745],[23.996,27.692],
];

const SERIES_DATA = [powerPts, transTempPts, recTempPts, pcTempPts];

const FONT = "DejaVu Sans";
const GRID_TOPS = [60, 565, 1063, 1560];
const GRID_H = 466;
const Y_LABEL_X = [57, 31, 56, 98];
const LINE_WIDTHS = [2.8, 2.8, 2.8, 3.3];

export default function App() {
  const ref = useRef<HTMLDivElement>(null);
  useEffect(() => {
    document.body.style.margin = "0";
    if (!ref.current) return;
    const chart = echarts.init(ref.current, null, { renderer: "svg" });
    const grids = GRID_TOPS.map((t) => ({
      left: 220,
      right: 36,
      top: t,
      height: GRID_H,
      show: true,
      borderColor: "#1a1a1a",
      borderWidth: 2.5,
      containLabel: false,
      outerBoundsMode: "none",
    }));
    const xAxes = GRID_TOPS.map((_, i) => ({
      type: "value",
      gridIndex: i,
      min: HOURS[0],
      max: HOURS[1],
      interval: 1,
      name: i === 3 ? X_LABEL : "",
      nameLocation: "middle",
      nameGap: 75,
      nameMoveOverlap: false,
      nameTextStyle: { fontFamily: FONT, fontSize: 50, color: "#000" },
      axisLine: { show: true, onZero: false, lineStyle: { color: "#1a1a1a", width: 2.5 } },
      axisTick: { show: true, length: 19, lineStyle: { color: "#1a1a1a", width: 3 } },
      minorTick: { show: true, splitNumber: 4, length: 11, lineStyle: { color: "#1a1a1a", width: 2.5 } },
      axisLabel: {
        show: i === 3,
        fontFamily: FONT,
        fontSize: 47,
        color: "#000",
        margin: 21,
        formatter: (v: number) => String(Math.round(v) % 24).padStart(2, "0"),
      },
      splitLine: { show: true, showMinLine: false, showMaxLine: false, lineStyle: { color: "#b0b0b0", width: 2 } },
    }));
    const yAxes = GRID_TOPS.map((_, i) => ({
      type: "value",
      gridIndex: i,
      min: Y_RANGES[i][0],
      max: Y_RANGES[i][1],
      axisLine: { show: true, onZero: false, lineStyle: { color: "#1a1a1a", width: 2.5 } },
      axisTick: { show: true, length: 18, customValues: Y_TICKS[i], lineStyle: { color: "#1a1a1a", width: 3 } },
      axisLabel: {
        show: true,
        customValues: Y_TICKS[i],
        fontFamily: FONT,
        fontSize: 47,
        color: "#000",
        margin: 28,
        formatter: (v: number) => v.toFixed(Y_DECIMALS[i]),
      },
      splitLine: { show: true, showMinLine: false, showMaxLine: false, lineStyle: { color: "#b0b0b0", width: 2 } },
    }));
    const series = SERIES_DATA.map((d, i) => ({
      type: "line",
      xAxisIndex: i,
      yAxisIndex: i,
      data: d,
      showSymbol: false,
      symbol: "none",
      lineStyle: { color: COLORS[i], width: LINE_WIDTHS[i] },
      itemStyle: { color: COLORS[i] },
      z: 5,
    }));
    const yLabelTexts = Y_LABELS.map((label, i) => ({
      type: "text",
      x: Y_LABEL_X[i],
      y: GRID_TOPS[i] + GRID_H / 2,
      rotation: Math.PI / 2,
      style: {
        text: label,
        fontFamily: FONT,
        fontSize: 51,
        lineHeight: 51,
        fill: "#000",
        textAlign: "center",
        textVerticalAlign: "middle",
      },
    }));
    chart.setOption({
      animation: false,
      backgroundColor: "#ffffff",
      textStyle: { fontFamily: FONT },
      grid: grids,
      xAxis: xAxes,
      yAxis: yAxes,
      series,
      graphic: [
        {
          type: "text",
          x: 1592,
          y: 32,
          style: {
            text: TITLE,
            fontFamily: FONT,
            fontSize: 57,
            fill: "#000",
            textAlign: "center",
            textVerticalAlign: "middle",
          },
        },
        ...yLabelTexts,
      ],
    });
    return () => chart.dispose();
  }, []);
  return <div ref={ref} style={{ width: 3000, height: 2160 }} />;
}
